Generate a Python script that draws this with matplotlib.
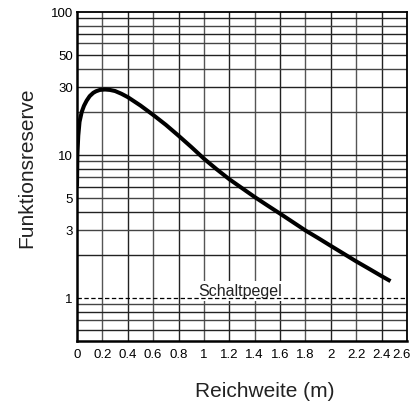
import matplotlib
matplotlib.use("Agg")
import matplotlib.pyplot as plt
import matplotlib.transforms as mtransforms
import numpy as np

plt.rcParams['font.family'] = ['Liberation Sans', 'DejaVu Sans']

# data
reach_m = [0, 0.003, 0.01, 0.02, 0.037, 0.055, 0.076, 0.1, 0.128, 0.15, 0.18, 0.22,
           0.26, 0.3, 0.35, 0.4, 0.5, 0.6, 0.7, 0.8, 0.9, 1.0, 1.1, 1.2,
           1.3, 1.4, 1.5, 1.6, 1.7, 1.8, 1.9, 2.0, 2.1, 2.2, 2.3, 2.4, 2.47]
reserve = [6.0, 10.0, 13.6, 17.0, 19.9, 22.0, 23.9, 25.7, 27.1, 27.8, 28.4, 28.6,
           28.4, 27.9, 26.7, 25.3, 22.1, 19.0, 16.2, 13.6, 11.35, 9.4, 7.93, 6.75,
           5.85, 5.07, 4.43, 3.88, 3.39, 2.96, 2.62, 2.31, 2.04, 1.80, 1.60, 1.42, 1.31]
x_ticks = [0, 0.2, 0.4, 0.6, 0.8, 1, 1.2, 1.4, 1.6, 1.8, 2, 2.2, 2.4, 2.6]
x_tick_labels = ["0", "0.2", "0.4", "0.6", "0.8", "1", "1.2", "1.4", "1.6", "1.8", "2", "2.2", "2.4", "2.6"]
y_ticks = [1, 3, 5, 10, 30, 50, 100]
y_tick_labels = ["1", "3", "5", "10", "30", "50", "100"]
y_grid = [0.6, 0.7, 0.8, 0.9, 2, 3, 4, 5, 6, 7, 8, 9, 10, 20, 30, 40, 50, 60, 70, 80, 90]
switch_level = 1.0
switch_label = "Schaltpegel"

fig = plt.figure(figsize=(4.11, 4.06), dpi=100)
ax = fig.add_axes([77/411, 1-342/406, 330/411, (342-12.7)/406])
ax.set_yscale('log')
ax.set_xlim(0, 2.6)
ax.set_ylim(0.5, 100)

for i, xv in enumerate(x_ticks[1:-1]):
    ax.axvline(xv, color='#222222' if i % 2 else '#555555', lw=1.0, zorder=1)
for i, yv in enumerate(y_grid):
    ax.axhline(yv, color='#222222' if i % 2 == 0 else '#444444', lw=1.0, zorder=1)

ax.axhline(switch_level, color='black', lw=0.9, ls=(0, (3.5, 2)), zorder=5)
ax.text(1.287, 1.04, switch_label, ha='center', va='baseline', fontsize=11.5, color='#222222',
        zorder=4, bbox=dict(facecolor='white', edgecolor='none', pad=1.5))

ax.plot(reach_m, reserve, color='black', lw=2.9, solid_capstyle='butt',
        solid_joinstyle='round', zorder=3)

ax.set_xticks(x_ticks)
ax.set_xticklabels(x_tick_labels)
ax.set_yticks(y_ticks)
ax.set_yticklabels(y_tick_labels)
ax.yaxis.set_minor_locator(matplotlib.ticker.NullLocator())
ax.tick_params(length=0, labelsize=9.5, pad=3)
ax.tick_params(axis='x', pad=5)
last = ax.get_xticklabels()[-1]
last.set_transform(last.get_transform() + mtransforms.ScaledTranslation(-6/100, 0, fig.dpi_scale_trans))

for side in ['left', 'bottom']:
    ax.spines[side].set_linewidth(1.8)
for side in ['top', 'right']:
    ax.spines[side].set_linewidth(1.3)
for s in ax.spines.values():
    s.set_color('black')
    s.set_zorder(6)

fig.text(27/411, 1-167.5/406, "Funktionsreserve", rotation=90, ha='center', va='center', fontsize=15, color='#222222')
fig.text(265/411, 1-392/406, "Reichweite (m)", ha='center', va='center', fontsize=15, color='#222222')

fig.savefig("out.png", dpi=100)
